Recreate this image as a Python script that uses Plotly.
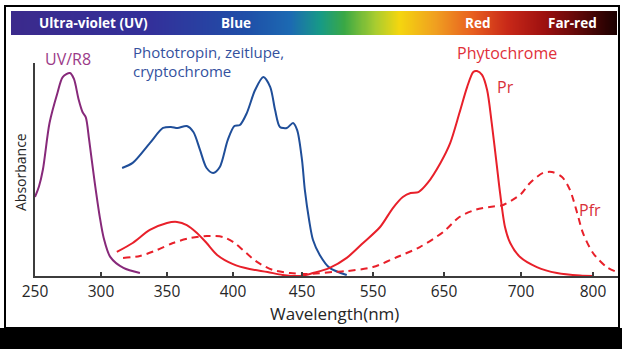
import numpy as np
import plotly.graph_objects as go

W, H = 622, 349

# ---- axis ticks (non-uniform wavelength axis) ----
TICK_NM = [250, 300, 350, 400, 450, 550, 650, 700, 800]
TICK_LABELS = ["250", "300", "350", "400", "450", "550", "650", "700", "800"]
AXIS_TICK_POS = [0, 66, 132, 198, 267, 338, 409, 486, 558]   # axis units
AXIS_END = 583

# ---- series ----
UV_NM = [250, 253, 256, 261, 267, 271, 276.5, 279.5, 283, 286, 288.5, 291, 295, 299, 302, 307, 317, 329.5]
UV_ABS = [0.371, 0.42, 0.50, 0.718, 0.859, 0.934, 0.953, 0.925, 0.83, 0.77, 0.745, 0.64, 0.45, 0.28, 0.18, 0.09, 0.038, 0.014]

BLUE_NM = [316, 324, 337, 347, 353, 358, 365, 370, 375, 380, 385, 390, 396, 401, 405, 410, 416, 422, 427, 430.5, 434, 439, 443.5, 446.5, 450, 454, 460, 465.5, 475, 489, 513]
BLUE_ABS = [0.507, 0.531, 0.624, 0.695, 0.70, 0.695, 0.704, 0.676, 0.592, 0.507, 0.484, 0.512, 0.638, 0.704, 0.709, 0.765, 0.873, 0.934, 0.887, 0.779, 0.700, 0.695, 0.718, 0.685, 0.545, 0.404, 0.263, 0.169, 0.099, 0.038, 0.005]

PR_NM = [312, 324, 337, 350, 357.6, 365, 372.7, 380, 388, 400, 412, 425, 436, 449, 465.5, 489, 513, 536, 560, 578, 592, 603, 614, 627, 645, 654, 660, 665, 669, 671.4, 674.7, 678, 681, 684.4, 686.4, 689.6, 693, 699.4, 722, 750, 782, 800]
PR_ABS = [0.113, 0.155, 0.216, 0.249, 0.254, 0.239, 0.202, 0.155, 0.099, 0.056, 0.033, 0.019, 0.005, 0.0, 0.014, 0.038, 0.085, 0.155, 0.230, 0.319, 0.371, 0.390, 0.394, 0.437, 0.531, 0.624, 0.765, 0.887, 0.958, 0.962, 0.944, 0.873, 0.718, 0.512, 0.390, 0.230, 0.155, 0.089, 0.042, 0.014, 0.002, 0.0]

PFR_NM = [316.7, 329.5, 342.4, 354.5, 367.4, 380.3, 392.4, 400, 407.2, 417.4, 429, 441.3, 457, 494, 513, 550, 584, 616, 649, 660, 671, 682, 688, 694, 700, 712.5, 730.6, 743, 757, 768, 778, 786, 800, 819, 833]
PFR_ABS = [0.085, 0.094, 0.122, 0.155, 0.178, 0.188, 0.183, 0.160, 0.122, 0.066, 0.028, 0.014, 0.009, 0.019, 0.023, 0.042, 0.089, 0.136, 0.207, 0.277, 0.312, 0.326, 0.332, 0.355, 0.385, 0.437, 0.484, 0.488, 0.465, 0.404, 0.296, 0.202, 0.108, 0.042, 0.019]

BAND_LABELS = ["Ultra-violet (UV)", "Blue", "Red", "Far-red"]

PURPLE = "#87297A"
BLUE = "#1F4E99"
RED = "#E8202A"
FONT = "Open Sans"


def nm_to_u(nm):
    nm = np.asarray(nm, float)
    u = np.interp(nm, TICK_NM, AXIS_TICK_POS)
    slope = (AXIS_TICK_POS[-1] - AXIS_TICK_POS[-2]) / (TICK_NM[-1] - TICK_NM[-2])
    return np.where(nm > TICK_NM[-1], AXIS_TICK_POS[-1] + (nm - TICK_NM[-1]) * slope, u)


def px(x):
    return x / W


def py(y):
    return (H - y) / H


fig = go.Figure()

# spectrum bar (decorative gradient)
grad = np.linspace(0, 1, 300)
spectrum_scale = [
    [0.0, "#3B2A8C"], [0.23, "#33309A"], [0.39, "#1F4FA8"], [0.46, "#1C6AB2"],
    [0.51, "#179A86"], [0.55, "#3AA845"], [0.60, "#A8CC30"], [0.64, "#F4D60F"],
    [0.70, "#F0A020"], [0.76, "#E86020"], [0.82, "#C82818"], [0.88, "#9E1010"],
    [1.0, "#1A0000"],
]
fig.add_trace(go.Heatmap(z=[grad], colorscale=spectrum_scale, showscale=False,
                         zsmooth="best", xaxis="x2", yaxis="y2", hoverinfo="skip"))

line_common = dict(mode="lines", hoverinfo="skip", showlegend=False)
fig.add_trace(go.Scatter(x=nm_to_u(UV_NM), y=UV_ABS, line=dict(color=PURPLE, width=2, shape="spline", smoothing=0.8), **line_common))
fig.add_trace(go.Scatter(x=nm_to_u(BLUE_NM), y=BLUE_ABS, line=dict(color=BLUE, width=2, shape="spline", smoothing=0.8), **line_common))
fig.add_trace(go.Scatter(x=nm_to_u(PFR_NM), y=PFR_ABS, line=dict(color=RED, width=2, dash="7px,5px", shape="spline", smoothing=0.8), **line_common))
fig.add_trace(go.Scatter(x=nm_to_u(PR_NM), y=PR_ABS, line=dict(color=RED, width=2, shape="spline", smoothing=0.8), **line_common))

axis_color = "#3C3C3C"
fig.update_layout(
    width=W, height=H, autosize=False,
    margin=dict(l=0, r=0, t=0, b=0, pad=0, autoexpand=False),
    paper_bgcolor="white", plot_bgcolor="white",
    font=dict(family=FONT, color="#333333"),
    xaxis=dict(domain=[px(35), px(618)], range=[0, AXIS_END], tickmode="array",
               tickvals=list(nm_to_u(TICK_NM)), ticktext=TICK_LABELS,
               showline=True, linecolor=axis_color, linewidth=2,
               ticks="inside", ticklen=4, tickwidth=1.5, tickcolor=axis_color,
               showgrid=False, zeroline=False, tickfont=dict(size=15.5, color="#262626"),
               automargin=False, fixedrange=True),
    yaxis=dict(domain=[py(276), py(63)], range=[0, 1], showline=True, linecolor=axis_color,
               linewidth=2, showticklabels=False, ticks="", showgrid=False, zeroline=False,
               automargin=False, fixedrange=True),
    xaxis2=dict(domain=[px(11), px(617)], visible=False, anchor="y2", automargin=False, fixedrange=True),
    yaxis2=dict(domain=[py(35), py(11)], visible=False, anchor="x2", automargin=False, fixedrange=True),
)

shapes = [
    dict(type="rect", xref="paper", yref="paper", x0=0, x1=1, y0=0, y1=py(328),
         fillcolor="black", line=dict(width=0), layer="above"),
    dict(type="rect", xref="paper", yref="paper", x0=px(5), x1=px(619), y0=py(328), y1=py(6),
         line=dict(color="black", width=2), fillcolor="rgba(0,0,0,0)", layer="above"),
]
fig.update_layout(shapes=shapes)

ann = []
band_x = [93, 236, 477, 572]
for lab, x in zip(BAND_LABELS, band_x):
    ann.append(dict(x=px(x), y=py(23), xref="paper", yref="paper", text="<b>" + lab + "</b>",
                    showarrow=False, font=dict(size=13.5, color="white", family=FONT),
                    xanchor="center", yanchor="middle"))

ann += [
    dict(x=px(68), y=py(59), text="UV/R8", font=dict(size=16, color="#9B3A88")),
    dict(x=px(131), y=py(51.5), text="Phototropin, zeitlupe,", xanchor="left", font=dict(size=15, color="#34519E")),
    dict(x=px(131), y=py(71), text="cryptochrome", xanchor="left", font=dict(size=15, color="#34519E")),
    dict(x=px(507), y=py(53), text="Phytochrome", font=dict(size=16, color="#E0303A")),
    dict(x=px(505), y=py(87), text="Pr", font=dict(size=16, color="#D8303A")),
    dict(x=px(590), y=py(210), text="Pfr", font=dict(size=16, color="#D8303A")),
    dict(x=px(20), y=py(172), text="Absorbance", textangle=-90, font=dict(size=14, color="#262626")),
    dict(x=px(334), y=py(313), text="Wavelength(nm)", font=dict(size=17, color="#262626")),
]
for a in ann[4:]:
    a.setdefault("xref", "paper")
    a.setdefault("yref", "paper")
    a.setdefault("showarrow", False)
    a.setdefault("xanchor", "center")
    a.setdefault("yanchor", "middle")
    a["font"].setdefault("family", FONT)
fig.update_layout(annotations=ann)

fig.write_html("out.html", config={"displayModeBar": False})
